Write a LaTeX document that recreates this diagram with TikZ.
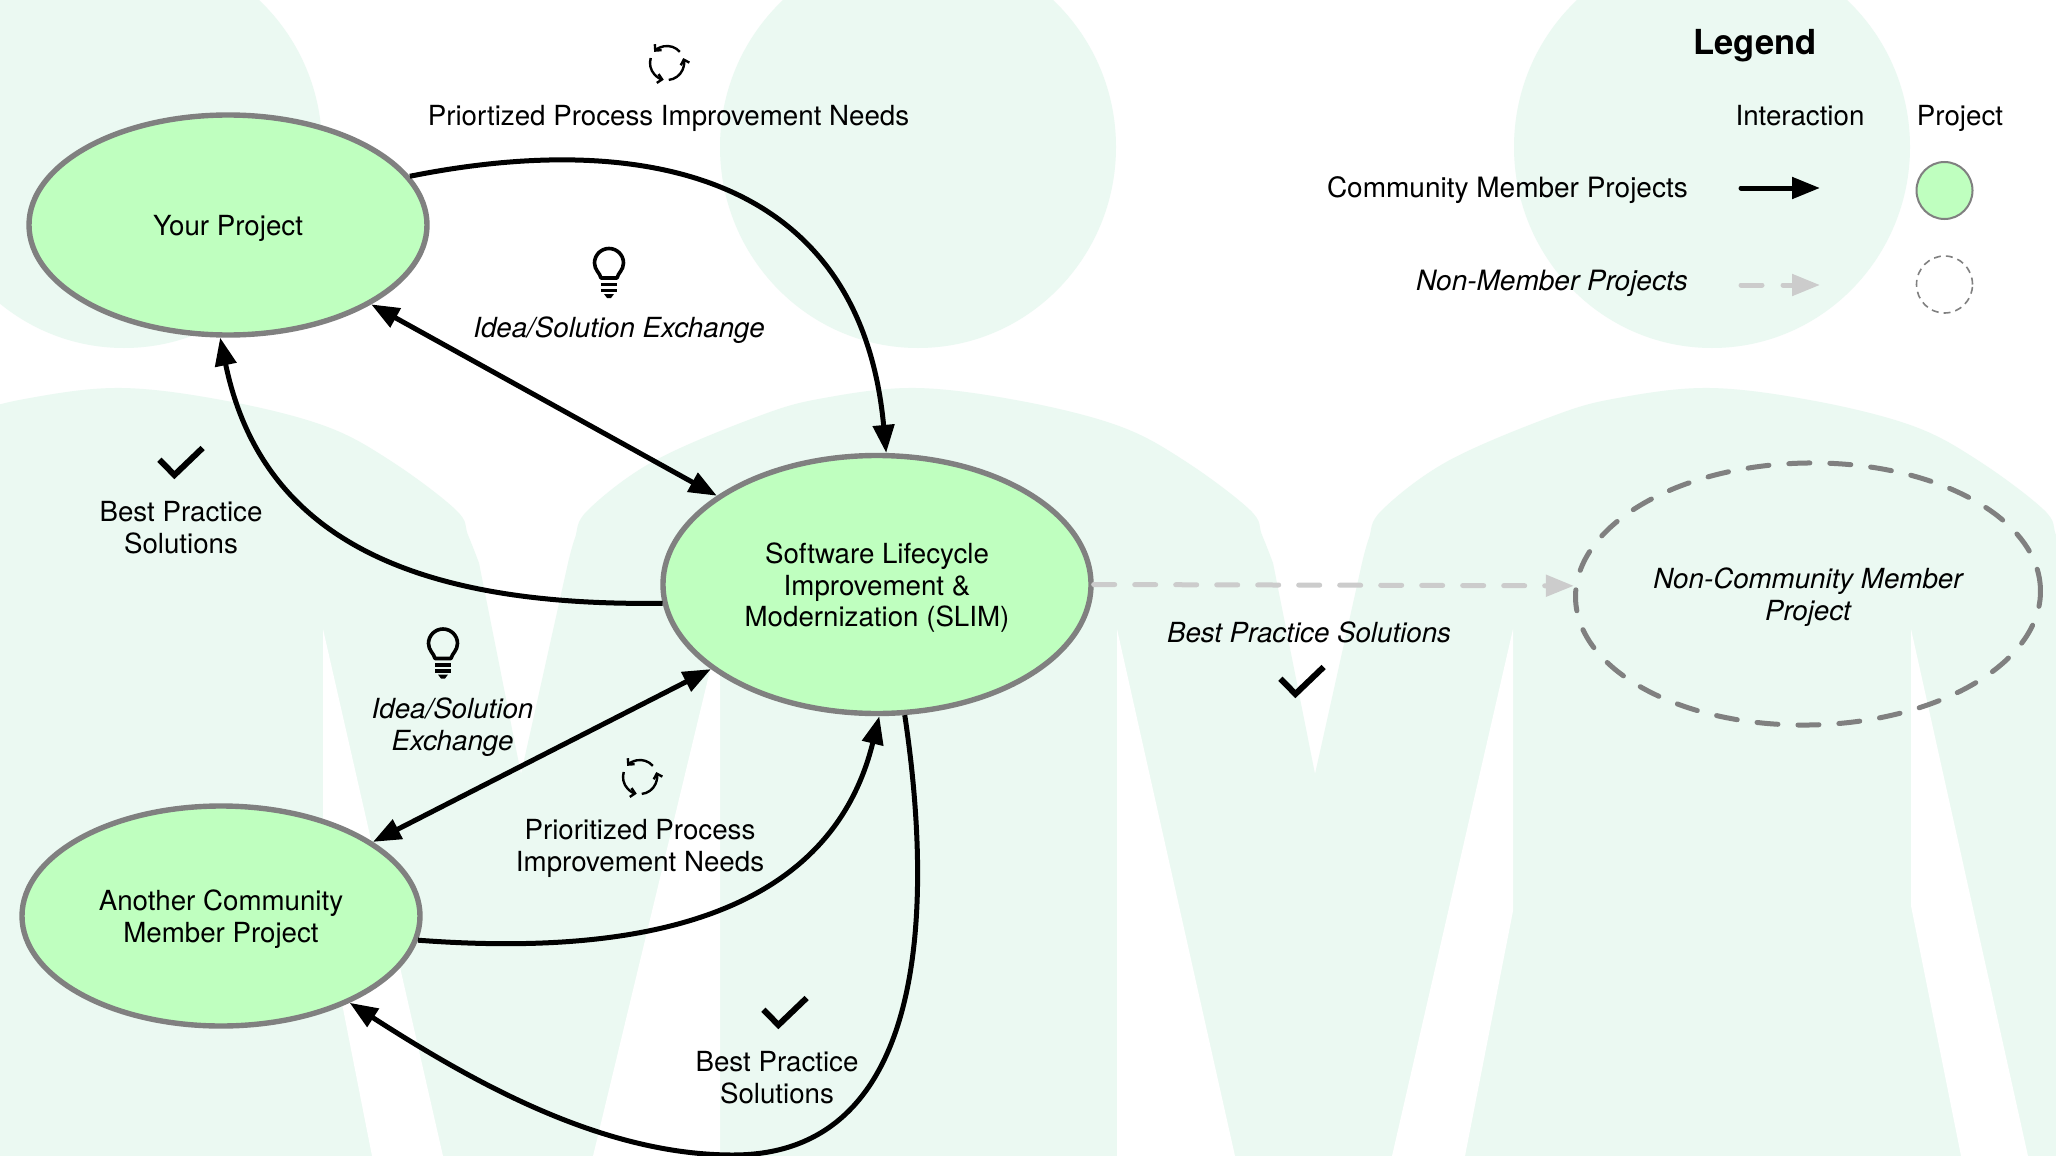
\documentclass[tikz,border=0pt]{standalone}
\usepackage{fontspec}
\setmainfont{TeX Gyre Heros}
\usetikzlibrary{shapes.geometric,arrows.meta}
\definecolor{bgmint}{HTML}{EBF9F2}
\definecolor{projfill}{HTML}{BFFFBF}
\definecolor{projline}{HTML}{808080}
\definecolor{nonline}{HTML}{CCCCCC}
\newcommand{\nodetext}[1]{\raisebox{-4.3pt}[\height][\depth]{\begin{tabular}{@{}c@{}}#1\end{tabular}}}
\tikzset{
  proj/.style={ellipse,draw=projline,fill=projfill,line width=5.4pt,inner sep=0pt,align=center},
  nonproj/.style={ellipse,draw=projline,line width=5pt,inner sep=0pt,dash pattern=on 21pt off 20pt,line cap=round},
  lbl/.style={anchor=base,align=center,inner sep=0pt},
  itlbl/.style={anchor=base,align=center,inner sep=0pt,font=\fontsize{27.7}{31.5}\selectfont\itshape},
  conn/.style={line width=5pt,black,-{Triangle[length=28pt,width=21pt]}},
  bothconn/.style={line width=5pt,black,{Triangle[length=28pt,width=21pt]}-{Triangle[length=28pt,width=21pt]}},
  nonconn/.style={line width=5pt,nonline,dash pattern=on 21pt off 20pt,line cap=round,-{Triangle[length=28pt,width=21pt]}},
  checkicon/.pic={\draw[x=1pt,y=1pt,line width=6pt,black,miter limit=10] (-21.6,2.3) -- (-6.6,-13) -- (21.6,14);},
  bulbicon/.pic={
    \begin{scope}[x=1pt,y=1pt,black]
      \draw[line width=3.6pt,line join=round] (-7.5,-15) -- (-8,-15) .. controls (-9,-10) and (-14.5,-7) .. (-14.5,0) arc[start angle=180,end angle=0,radius=14.5] .. controls (14.5,-7) and (9,-10) .. (8,-15) -- cycle;
      \fill (-8,-19.5) rectangle (8,-23);
      \fill (-8,-25.5) rectangle (8,-29);
      \fill (-5,-31) -- (5,-31) -- (2,-35) -- (-2,-35) -- cycle;
    \end{scope}},
  cycleicon/.pic={
    \begin{scope}[x=1pt,y=1pt,black,line width=2.4pt,-{Straight Barb[length=4.5pt,width=9pt]}]
      \draw (41:17) arc[start angle=41,end angle=139,radius=17];
      \draw (-84:17) arc[start angle=-84,end angle=17,radius=17];
      \draw (163:17) arc[start angle=163,end angle=259,radius=17];
    \end{scope}}
}
\begin{document}
\begin{tikzpicture}[x=1pt,y=-1pt,font=\fontsize{27.7}{31.5}\selectfont]
\useasboundingbox (0,0) rectangle (2056,1156);
\fill[white] (0,0) rectangle (2056,1156);
\begin{scope}
  \clip (0,0) rectangle (2056,1156);
  \foreach \dx in {-794,0,794}{
    \begin{scope}[xshift=\dx pt]
      \fill[bgmint] (918,147) ellipse[x radius=198,y radius=201];
      \fill[bgmint] (521,774) -- plot[smooth,tension=.6] coordinates {(568,563)(575,538)(588,510)(654,461)(759,416)(824,398)(916,388)(1021,401)(1119,426)(1185,461)(1250,510)(1262,535)(1273,563)} -- (1315,774) -- (1315,1156) -- (521,1156) -- cycle;
    \end{scope}
  }
  \fill[white] (323,629) -- (323,907) -- (372,1156) -- (443,1156) -- cycle;
  \fill[white] (720,629) -- (720,1156) -- (593,1156) -- cycle;
  \fill[white] (1117,629) -- (1117,1156) -- (1235,1156) -- cycle;
  \fill[white] (1513,629) -- (1513,911) -- (1465,1156) -- (1392,1156) -- cycle;
  \fill[white] (1911,629) -- (1911,906) -- (1961,1156) -- (2028,1156) -- cycle;
\end{scope}

\node[proj,minimum width=398pt,minimum height=220pt] (yp) at (228,225) {\nodetext{Your Project}};
\node[proj,minimum width=428pt,minimum height=258pt] (slim) at (877,584.5) {\nodetext{Software Lifecycle\\Improvement \&\\Modernization (SLIM)}};
\node[proj,minimum width=398pt,minimum height=220pt] (acm) at (221,916) {\nodetext{Another Community\\Member Project}};
\node[nonproj,rotate=1,minimum width=465pt,minimum height=262pt] (ncm) at (1808,594) {};
\node[itlbl] (ncmt) at (1808,620) {Non-Community Member\\Project};

\draw[conn] (yp.15) .. controls (640,130) and (860,172) .. (slim.86.6);
\draw[conn] (slim.185.8) .. controls (400,607) and (260,530) .. (yp.266.5);
\draw[bothconn] (yp.-29) -- (slim.151);
\draw[bothconn] (acm.26.7) -- (slim.207);
\draw[conn] (acm.-7.2) .. controls (640,957) and (830,917) .. (slim.271);
\draw[conn] (slim.282) .. controls (925,850) and (950,1155) .. (733,1155) .. controls (600,1155) and (470,1080) .. (acm.-34.4);
\draw[nonconn] (slim.0.5) -- (ncm.177.5);

\node[lbl] (t1) at (668.5,125) {Priortized Process Improvement Needs};
\node[itlbl] (t2) at (619,337) {Idea/Solution Exchange};
\node[lbl] (t3) at (181,553) {Best Practice\\Solutions};
\node[itlbl] (t4) at (452.5,750) {Idea/Solution\\Exchange};
\node[lbl] (t5) at (640,871) {Prioritized Process\\Improvement Needs};
\node[lbl] (t6) at (777,1103) {Best Practice\\Solutions};
\node[itlbl] (t7) at (1309,642) {Best Practice Solutions};

\pic at (667,63) {cycleicon};
\pic at (640,777) {cycleicon};
\pic at (609,263) {bulbicon};
\pic at (443,643.5) {bulbicon};
\pic at (181,462) {checkicon};
\pic at (785,1012) {checkicon};
\pic at (1302,681) {checkicon};

\node[lbl,font=\fontsize{34.5}{38}\selectfont\bfseries] (lg) at (1755,54.5) {Legend};
\node[lbl] (lgi) at (1800,125) {Interaction};
\node[lbl] (lgp) at (1960,125) {Project};
\node[anchor=base east,inner sep=0pt,font=\fontsize{28}{31.5}\selectfont] (lgc) at (1688,197) {Community Member Projects};
\node[anchor=base east,inner sep=0pt,font=\fontsize{28}{31.5}\selectfont\itshape] (lgn) at (1688,290) {Non-Member Projects};
\coordinate (la1) at (1741,188);
\coordinate (la2) at (1820,188);
\coordinate (lb1) at (1741,285);
\coordinate (lb2) at (1820,285);
\draw[conn,line cap=round] (la1) -- (la2);
\draw[line width=5pt,nonline,dash pattern=on 21pt off 21pt,line cap=round,-{Triangle[length=28pt,width=21pt]}] (lb1) -- (lb2);
\node[ellipse,draw=projline,fill=projfill,line width=2pt,minimum width=56pt,minimum height=57pt,inner sep=0pt] (lgs1) at (1944.5,190.5) {};
\node[ellipse,draw=projline,line width=1.6pt,dash pattern=on 7pt off 5pt,minimum width=56pt,minimum height=57pt,inner sep=0pt] (lgs2) at (1944.5,284.5) {};
\end{tikzpicture}
\end{document}
